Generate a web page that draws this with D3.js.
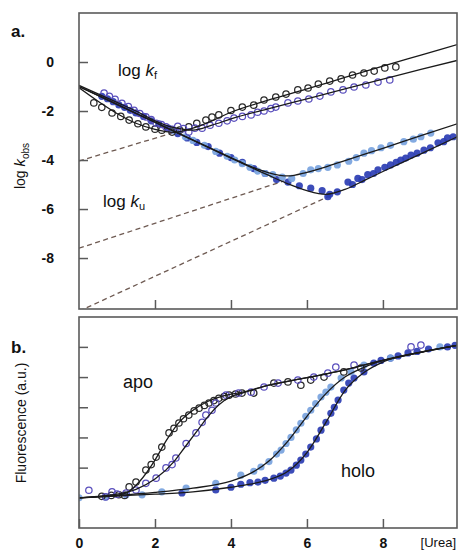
<!DOCTYPE html>
<html>
<head>
<meta charset="utf-8">
<script src="https://cdn.jsdelivr.net/npm/d3@7"></script>
<style>
  body { margin: 0; background: #fff; }
  svg text { font-family: "Liberation Sans", Arial, Helvetica, sans-serif; fill: #111; }
</style>
</head>
<body>
<div id="chart"></div>
<script>
// ---- panel a: log kobs vs [urea] ----
const apoBlackK = [[0.39,-1.67],[0.6,-1.85],[0.87,-2.08],[1.1,-2.22],[1.32,-2.37],[1.55,-2.52],[1.76,-2.65],[2.0,-2.74],[2.18,-2.78],[2.45,-2.86],[2.65,-2.78],[2.89,-2.65],[3.1,-2.5],[3.34,-2.37],[3.5,-2.25],[3.68,-2.16],[4.0,-1.98],[4.3,-1.84],[4.6,-1.76],[4.87,-1.55],[5.18,-1.43],[5.45,-1.31],[5.76,-1.14],[6.03,-1.06],[6.3,-0.9],[6.6,-0.78],[6.9,-0.69],[7.2,-0.53],[7.5,-0.45],[7.77,-0.37],[8.05,-0.24],[8.34,-0.2]];
const apoPurpleK = [[0.66,-1.27],[0.8,-1.4],[0.95,-1.52],[1.13,-1.69],[1.3,-1.82],[1.45,-1.97],[1.6,-2.1],[1.76,-2.24],[1.9,-2.35],[2.03,-2.5],[2.17,-2.55],[2.29,-2.65],[2.45,-2.75],[2.6,-2.62],[2.75,-2.72],[2.89,-2.86],[3.05,-2.7],[3.24,-2.7],[3.45,-2.58],[3.68,-2.5],[3.9,-2.4],[4.08,-2.29],[4.3,-2.22],[4.53,-2.16],[4.7,-2.05],[4.87,-2.0],[5.05,-1.9],[5.18,-1.84],[5.5,-1.67],[5.76,-1.59],[6.05,-1.51],[6.34,-1.39],[6.63,-1.22],[6.95,-1.14],[7.24,-1.02],[7.55,-0.94],[7.87,-0.82],[8.18,-0.73]];
const holoLightK = [[2.5,-2.8],[2.8,-3.05],[3.0,-3.2],[3.3,-3.4],[3.6,-3.65],[3.9,-3.85],[4.1,-4.0],[4.3,-4.15],[4.5,-4.3],[4.7,-4.45],[4.9,-4.55],[5.1,-4.6],[5.35,-4.7],[5.6,-4.75],[5.9,-4.55],[6.1,-4.4],[6.3,-4.35],[6.55,-4.3],[6.8,-4.2],[7.1,-4.05],[7.3,-3.9],[7.5,-3.72],[7.7,-3.62],[7.95,-3.5],[8.2,-3.4],[8.55,-3.25],[8.8,-3.15],[9.0,-3.05],[9.26,-2.9]];
const holoDarkK = [[0.6,-1.4],[0.75,-1.5],[0.9,-1.62],[1.05,-1.75],[1.2,-1.85],[1.35,-1.97],[1.5,-2.08],[1.7,-2.22],[1.9,-2.4],[2.1,-2.52],[2.35,-2.7],[2.6,-2.92],[2.85,-3.1],[3.1,-3.28],[3.4,-3.45],[3.7,-3.72],[4.0,-3.9],[4.3,-4.1],[4.6,-4.35],[4.9,-4.55],[5.2,-4.8],[5.5,-4.9],[5.8,-5.05],[6.1,-5.15],[6.4,-5.25],[6.55,-5.5],[6.6,-5.4],[6.8,-5.3],[7.08,-4.9],[7.2,-5.0],[7.34,-4.75],[7.45,-4.8],[7.6,-4.6],[7.75,-4.55],[7.87,-4.4],[8.05,-4.3],[8.2,-4.2],[8.35,-4.1],[8.47,-4.0],[8.6,-3.92],[8.74,-3.8],[8.9,-3.72],[9.08,-3.6],[9.25,-3.5],[9.45,-3.3],[9.6,-3.25],[9.7,-3.1],[9.85,-3.05]];

const apoBlackKFit = [[0,-1.05],[0.5,-1.6],[1.0,-2.1],[1.5,-2.5],[2.0,-2.75],[2.5,-2.87],[3.0,-2.7],[3.5,-2.4],[4.0,-2.05],[5,-1.55],[6,-1.1],[7,-0.63],[8,-0.17],[9,0.28],[10,0.73]];
const apoPurpleKFit = [[0,-0.95],[0.5,-1.3],[1,-1.65],[1.5,-2.0],[2,-2.4],[2.5,-2.68],[3,-2.78],[3.5,-2.58],[4,-2.32],[5,-1.9],[6,-1.5],[7,-1.1],[8,-0.7],[9,-0.3],[10,0.08]];
const holoLightKFit = [[0,-1.0],[1,-1.73],[2,-2.46],[3,-3.19],[4,-3.9],[4.5,-4.25],[5,-4.52],[5.5,-4.65],[6,-4.5],[6.5,-4.28],[7,-4.02],[8,-3.52],[9,-3.0],[10,-2.5]];
const holoDarkKFit = [[0,-1.0],[1,-1.73],[2,-2.46],[3,-3.19],[4,-3.92],[5,-4.63],[5.5,-4.97],[6,-5.25],[6.5,-5.4],[7,-5.2],[7.5,-4.84],[8,-4.47],[9,-3.75],[10,-3.02]];

// extrapolated unfolding arms (dashed)
const kuExtrap = [
  [[0,-4.04],[2.45,-2.9]],
  [[0,-7.6],[5.4,-4.85]],
  [[0,-10.17],[6.55,-5.5]]
];
const yTicksA = [0,-2,-4,-6,-8];

// ---- panel b: fluorescence vs [urea] ----
const apoBlackF = [[1.32,1.36],[1.5,1.52],[1.76,1.92],[1.9,2.1],[2.03,2.35],[2.18,2.68],[2.37,3.15],[2.5,3.3],[2.63,3.48],[2.75,3.62],[2.89,3.74],[3.03,3.88],[3.16,3.97],[3.3,4.06],[3.42,4.14],[3.55,4.22],[3.68,4.3],[3.82,4.35],[3.95,4.4],[4.12,4.44],[4.29,4.47],[4.6,4.47],[5.13,4.8],[5.5,4.84],[5.84,4.73],[6.1,4.9],[6.45,5.0],[6.97,5.17],[7.42,5.3]];
const apoBlackFlow = [[0.6,1.05],[0.85,1.08],[1.05,1.1],[1.2,1.08]];
const apoPurpleF = [[0.26,1.25],[0.7,1.03],[0.87,1.2],[1.0,1.12],[1.24,1.16],[1.5,1.26],[1.76,1.48],[2.03,1.65],[2.29,1.99],[2.45,2.1],[2.55,2.32],[2.82,2.8],[3.08,3.15],[3.24,3.5],[3.34,3.74],[3.5,3.9],[3.6,4.14],[3.87,4.4],[4.2,4.47],[4.53,4.5],[4.87,4.67],[5.24,4.8],[5.76,4.9],[6.18,5.0],[6.55,5.13],[6.76,5.33],[7.24,5.4],[8.74,6.0],[9.0,6.06]];
const holoLightF = [[0,1.0],[0.7,1.03],[1.24,1.1],[1.66,1.1],[2.18,1.2],[2.82,1.32],[3.6,1.48],[4.26,1.75],[4.6,1.88],[4.79,2.02],[5.0,2.2],[5.2,2.45],[5.32,2.58],[5.45,2.8],[5.58,3.0],[5.72,3.25],[5.84,3.47],[5.97,3.7],[6.1,3.9],[6.23,4.12],[6.37,4.34],[6.5,4.5],[6.63,4.67],[6.9,4.97],[7.16,5.17],[7.5,5.4],[8.2,5.63],[9.5,6.0]];
const holoDarkF = [[2.71,1.16],[3.6,1.26],[4.0,1.35],[4.26,1.45],[4.5,1.5],[4.71,1.52],[4.9,1.58],[5.13,1.65],[5.3,1.72],[5.45,1.82],[5.58,1.92],[5.72,2.08],[5.84,2.25],[5.97,2.45],[6.1,2.68],[6.25,2.95],[6.37,3.24],[6.5,3.5],[6.63,3.8],[6.72,4.0],[6.82,4.24],[6.97,4.57],[7.1,4.8],[7.24,4.97],[7.5,5.17],[7.76,5.46],[7.95,5.55],[8.2,5.63],[8.4,5.7],[8.66,5.8],[8.9,5.85],[9.2,5.93],[9.7,6.0],[9.9,6.05]];

const apoBlackFFit = [[0,1.0],[0.5,1.03],[1.0,1.08],[1.3,1.2],[1.6,1.55],[2.0,2.25],[2.3,2.9],[2.6,3.45],[3.0,3.9],[3.4,4.2],[3.8,4.38],[4.3,4.5],[5,4.73],[6,4.98],[7,5.24],[8,5.55],[9,5.82],[10,6.06]];
const apoPurpleFFit = [[0,1.0],[0.5,1.05],[1.0,1.12],[1.5,1.28],[2.0,1.62],[2.5,2.2],[2.8,2.7],[3.1,3.2],[3.4,3.7],[3.7,4.1],[4.0,4.35],[4.3,4.47],[5,4.73],[6,4.98],[7,5.24],[8,5.55],[9,5.82],[10,6.06]];
const holoLightFFit = [[0,1.0],[1,1.08],[2,1.18],[3,1.32],[4,1.55],[4.5,1.8],[5,2.22],[5.5,2.88],[6,3.7],[6.5,4.45],[7,5.0],[7.5,5.32],[8,5.55],[9,5.83],[10,6.06]];
const holoDarkFFit = [[0,1.0],[1,1.06],[2,1.12],[3,1.2],[4,1.35],[4.5,1.45],[5,1.6],[5.5,1.88],[6,2.5],[6.5,3.5],[7,4.55],[7.5,5.15],[8,5.5],[9,5.83],[10,6.06]];

const yTicksB = [2,3,4,5,6];
const xTicks = [0,2,4,6,8];

const colors = { black: "#2a2a2a", purple: "#5a4fbd", dark: "#2b3db3", light: "#78a3de", dash: "#6e5a52" };

const width = 458, height = 552;
const left = 79, right = 457;
const aTop = 13, aBottom = 309, bTop = 317, bBottom = 528;

const svg = d3.select("#chart").append("svg")
    .attr("width", width).attr("height", height);

const x = d3.scaleLinear().domain([0, 9.95]).range([left, right]);
const yA = d3.scaleLinear().domain([-10.08, 2.0]).range([aBottom, aTop]);
const yB = d3.scaleLinear().domain([0, 6.99]).range([bBottom, bTop]);

const defs = svg.append("defs");
defs.append("clipPath").attr("id", "clipA").append("rect")
    .attr("x", left).attr("y", aTop).attr("width", right - left).attr("height", aBottom - aTop);
defs.append("clipPath").attr("id", "clipB").append("rect")
    .attr("x", left).attr("y", bTop).attr("width", right - left).attr("height", bBottom - bTop);

function drawPanel(yScale, top, bottom, clipId, fits, opens, filleds, dashes) {
    const g = svg.append("g").attr("clip-path", `url(#${clipId})`);
    const line = d3.line().x(d => x(d[0])).y(d => yScale(d[1])).curve(d3.curveMonotoneX);

    (dashes || []).forEach(d => {
        g.append("path").attr("d", line(d))
            .attr("fill", "none").attr("stroke", colors.dash)
            .attr("stroke-width", 1.3).attr("stroke-dasharray", "5,3.5");
    });

    // filled symbols under the open ones
    filleds.forEach(s => {
        g.append("g").selectAll("circle").data(s.data).join("circle")
            .attr("cx", d => x(d[0])).attr("cy", d => yScale(d[1]))
            .attr("r", 3.6).attr("fill", s.color).attr("fill-opacity", 0.92);
    });
    opens.forEach(s => {
        g.append("g").selectAll("circle").data(s.data).join("circle")
            .attr("cx", d => x(d[0])).attr("cy", d => yScale(d[1]))
            .attr("r", 3.2).attr("fill", "none").attr("stroke", s.color).attr("stroke-width", 1.25);
    });

    fits.forEach(f => {
        g.append("path").attr("d", line(f))
            .attr("fill", "none").attr("stroke", "#1a1a1a").attr("stroke-width", 1.3);
    });

    svg.append("rect")
        .attr("x", left).attr("y", top).attr("width", right - left).attr("height", bottom - top)
        .attr("fill", "none").attr("stroke", "#5a5a5a").attr("stroke-width", 1.6);
}

drawPanel(yA, aTop, aBottom, "clipA",
    [apoBlackKFit, apoPurpleKFit, holoLightKFit, holoDarkKFit],
    [{ data: apoBlackK, color: colors.black }, { data: apoPurpleK, color: colors.purple }],
    [{ data: holoDarkK, color: colors.dark }, { data: holoLightK, color: colors.light }],
    kuExtrap);

drawPanel(yB, bTop, bBottom, "clipB",
    [apoBlackFFit, apoPurpleFFit, holoLightFFit, holoDarkFFit],
    [{ data: apoBlackF.concat(apoBlackFlow), color: colors.black }, { data: apoPurpleF, color: colors.purple }],
    [{ data: holoDarkF, color: colors.dark }, { data: holoLightF, color: colors.light }],
    null);

// axes
const axA = svg.append("g").attr("transform", `translate(${left},0)`)
    .call(d3.axisLeft(yA).tickValues(yTicksA).tickSize(-9).tickPadding(25).tickFormat(d3.format("d")));
const axB = svg.append("g").attr("transform", `translate(${left},0)`)
    .call(d3.axisLeft(yB).tickValues(yTicksB).tickSize(-9).tickFormat(""));
const bxA = svg.append("g").attr("transform", `translate(0,${aBottom})`)
    .call(d3.axisBottom(x).tickValues(xTicks.slice(1)).tickSize(-9).tickFormat(""));
const bxB = svg.append("g").attr("transform", `translate(0,${bBottom})`)
    .call(d3.axisBottom(x).tickValues(xTicks).tickSize(-9).tickPadding(10).tickFormat(d3.format("d")));

[axA, axB, bxA, bxB].forEach(a => {
    a.select(".domain").remove();
    a.selectAll(".tick line").attr("stroke", "#5a5a5a").attr("stroke-width", 1.5);
    a.selectAll(".tick text").attr("font-size", 14).attr("font-family", "Liberation Sans, Arial, sans-serif")
        .attr("fill", "#111").attr("font-weight", "bold");
});
axA.selectAll(".tick text").text(d => d < 0 ? "-" + Math.abs(d) : d);

svg.append("text").attr("x", 456).attr("y", 547).attr("text-anchor", "end")
    .attr("font-size", 13).text("[Urea]");

// panel labels
svg.append("text").attr("x", 11).attr("y", 37).attr("font-size", 17).attr("font-weight", "bold").text("a.");
svg.append("text").attr("x", 11).attr("y", 353).attr("font-size", 17).attr("font-weight", "bold").text("b.");

// y axis titles
const t1 = svg.append("text").attr("transform", "translate(25,166) rotate(-90)")
    .attr("text-anchor", "middle").attr("font-size", 14);
t1.append("tspan").text("log ");
t1.append("tspan").attr("font-style", "italic").attr("font-size", 15).text("k");
t1.append("tspan").attr("font-size", 10).attr("dy", 4).text("obs");

svg.append("text").attr("transform", "translate(26,423) rotate(-90)")
    .attr("text-anchor", "middle").attr("font-size", 14).text("Fluorescence (a.u.)");

// in-plot labels
const lf = svg.append("text").attr("x", 118).attr("y", 76).attr("font-size", 17);
lf.append("tspan").text("log ");
lf.append("tspan").attr("font-style", "italic").text("k");
lf.append("tspan").attr("font-size", 11).attr("dy", 3).text("f");

const lu = svg.append("text").attr("x", 103).attr("y", 207).attr("font-size", 17);
lu.append("tspan").text("log ");
lu.append("tspan").attr("font-style", "italic").text("k");
lu.append("tspan").attr("font-size", 11).attr("dy", 3).text("u");

svg.append("text").attr("x", 123).attr("y", 388).attr("font-size", 18).text("apo");
svg.append("text").attr("x", 341).attr("y", 477).attr("font-size", 18).text("holo");
</script>
</body>
</html>
